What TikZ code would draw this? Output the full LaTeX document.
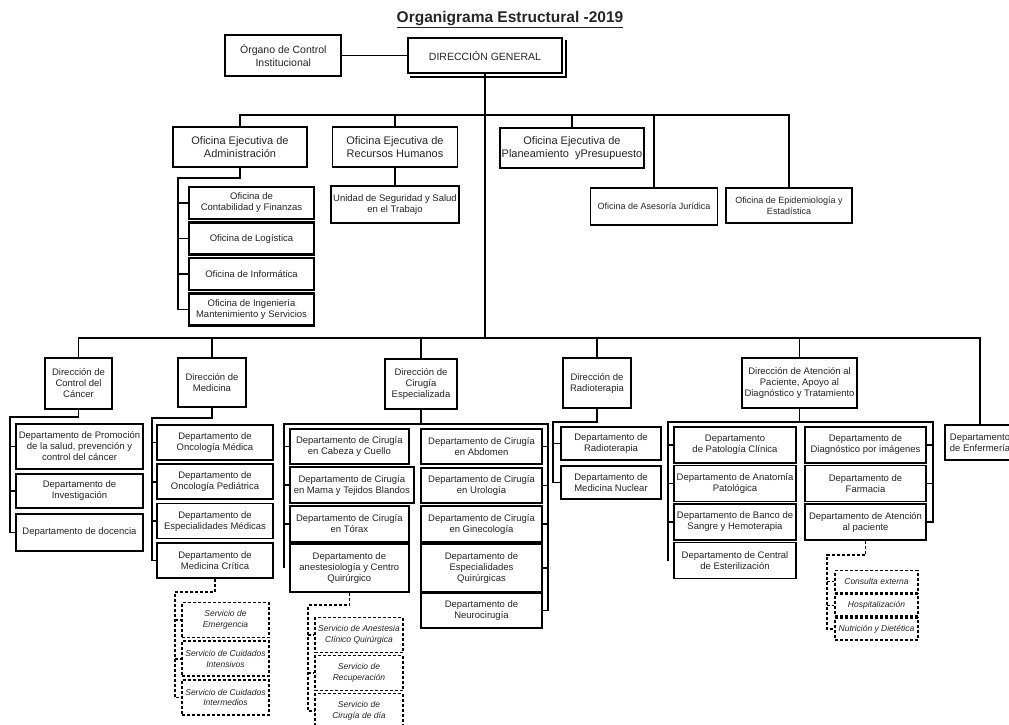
\documentclass[tikz,border=0pt]{standalone}
\usepackage{fontspec}
\setmainfont{Liberation Sans}
\usetikzlibrary{positioning}

\begin{document}
\begin{tikzpicture}[x=1pt,y=-1pt,
	linea/.style={line width=1.5pt},
	punteada/.style={line width=1.5pt,densely dashed},
	caja/.style={draw,line width=1.7pt,fill=white,text=black!85,align=center,inner sep=1pt,font=\fontsize{9.5}{11}\selectfont},
	ejecutiva/.style={caja,font=\fontsize{11}{13}\selectfont},
	oficina/.style={caja,line width=2.4pt},
	servicio/.style={caja,densely dashed,line width=1.6pt,font=\fontsize{8.5}{10.5}\selectfont\itshape}]
	\useasboundingbox (0,0) rectangle (1009,724);
	\clip (0,0) rectangle (1009,724);

	\coordinate (b1) at (485,115);
	\coordinate (b2) at (485,338);
	\coordinate (ca) at (178,178);
	\coordinate (cc) at (10,417);
	\coordinate (cm) at (152,418);
	\coordinate (cq) at (284,424);
	\coordinate (cr) at (548,424);
	\coordinate (cd) at (553,422);
	\coordinate (cp) at (668,422);
	\coordinate (cs) at (933,422);
	\coordinate (sm) at (175,592);
	\coordinate (sa) at (308,605);
	\coordinate (sp) at (827,555);

	\node[font=\fontsize{15.5}{17}\selectfont\bfseries,text=black!85] (titulo) at (510,20) {\underline{Organigrama Estructural -2019}};

	\node[caja,font=\fontsize{10.5}{12.5}\selectfont,minimum width=154,minimum height=35] (DG) at (485,55.5) {DIRECCIÓN GENERAL};
	\draw[line width=1.3pt] ([shift={(3,3)}]DG.south west) -| ([shift={(3,3)}]DG.north east);
	\node[caja,font=\fontsize{10.5}{12.5}\selectfont,minimum width=116,minimum height=41,left=65pt of DG] (OCI) {Órgano de Control\\Institucional};

	\node[ejecutiva,minimum width=134,minimum height=40] (OEA) at (240,147) {Oficina Ejecutiva de\\Administración};
	\node[ejecutiva,minimum width=125,minimum height=40] (OERH) at (395,147) {Oficina Ejecutiva de\\Recursos Humanos};
	\node[ejecutiva,minimum width=144,minimum height=40] (OEPP) at (572,148) {Oficina Ejecutiva de\\Planeamiento~ yPresupuesto};
	\node[caja,font=\fontsize{9}{11}\selectfont,minimum width=127,minimum height=37] (OAJ) at (654,206.5) {Oficina de Asesoría Jurídica};
	\node[caja,font=\fontsize{9}{11}\selectfont,minimum width=126,minimum height=35] (OEPI) at (789,205.5) {Oficina de Epidemiología y\\Estadística};
	\node[caja,minimum width=128,minimum height=37,below=17pt of OERH] (USST) {Unidad de Seguridad y Salud\\en el Trabajo};

	\foreach \t [count=\n] in {{Oficina de\\Contabilidad y Finanzas},{Oficina de Logística},{Oficina de Informática},{Oficina de Ingeniería\\Mantenimiento y Servicios}}
		\node[oficina,minimum width=125,minimum height=32] (O\n) at (251.5,167.5+35.5*\n) {\t};

	\node[caja,minimum width=67,minimum height=51] (DCC) at (78.5,383.5) {Dirección de\\Control del\\Cáncer};
	\node[caja,minimum width=68,minimum height=49] (DMED) at (212,382.5) {Dirección de\\Medicina};
	\node[caja,minimum width=72,minimum height=50] (DCE) at (421,384) {Dirección de\\Cirugía\\Especializada};
	\node[caja,minimum width=68,minimum height=50] (DRAD) at (597,383) {Dirección de\\Radioterapia};
	\node[caja,minimum width=115,minimum height=50] (DAP) at (799.5,383) {Dirección de Atención al\\Paciente, Apoyo al\\Diagnóstico y Tratamiento};
	\node[caja,minimum width=70,minimum height=35] (DENF) at (980,442.5) {Departamento\\de Enfermería};

	\foreach \y/\h/\t [count=\n] in {446.5/45/{Departamento de Promoción\\de la salud, prevención y\\control del cáncer},491/34/{Departamento de\\Investigación},532.5/37/{Departamento de docencia}}
		\node[caja,minimum width=127,minimum height=\h] (C\n) at (79.5,\y) {\t};

	\foreach \t [count=\n] in {{Departamento de\\Oncología Médica},{Departamento de\\Oncología Pediátrica},{Departamento de\\Especialidades Médicas},{Departamento de\\Medicina Crítica}}
		\node[caja,minimum width=116,minimum height=35] (M\n) at (215,403.2+39.3*\n) {\t};

	\foreach \y/\h/\w/\t [count=\n] in {446.5/35/119/{Departamento de Cirugía\\en Cabeza y Cuello},485/36/124/{Departamento de Cirugía\\en Mama y Tejidos Blandos},524/36/119/{Departamento de Cirugía\\en Tórax},568/48/119/{Departamento de\\anestesiología y Centro\\Quirúrgico}}
		\node[caja,minimum width=\w,minimum height=\h,anchor=west] (Q\n) at (289,\y) {\t};

	\foreach \y/\h/\t [count=\n] in {446.5/35/{Departamento de Cirugía\\en Abdomen},485.5/35/{Departamento de Cirugía\\en Urología},524/36/{Departamento de Cirugía\\en Ginecología},568/48/{Departamento de\\Especialidades\\Quirúrgicas},610.5/35/{Departamento de\\Neurocirugía}}
		\node[caja,minimum width=121,minimum height=\h] (R\n) at (481.5,\y) {\t};

	\foreach \t [count=\n] in {{Departamento de\\Radioterapia},{Departamento de\\Medicina Nuclear}}
		\node[caja,minimum width=100,minimum height=33] (D\n) at (611,404.5+39*\n) {\t};

	\foreach \t [count=\n] in {{Departamento\\de Patología Clínica},{Departamento de Anatomía\\Patológica},{Departamento de Banco de\\Sangre y Hemoterapia},{Departamento de Central\\de Esterilización}}
		\node[caja,minimum width=122,minimum height=36] (PL\n) at (735,406.5+38.5*\n) {\t};

	\foreach \t [count=\n] in {{Departamento de\\Diagnóstico por imágenes},{Departamento de\\Farmacia},{Departamento de Atención\\al paciente}}
		\node[caja,minimum width=121,minimum height=36] (PR\n) at (865.5,406.5+38.5*\n) {\t};

	\foreach \t [count=\n] in {{Servicio de\\Emergencia},{Servicio de Cuidados\\Intensivos},{Servicio de Cuidados\\Intermedios}}
		\node[servicio,minimum width=87,minimum height=35] (SM\n) at (225.5,581.25+38.75*\n) {\t};

	\foreach \t [count=\n] in {{Servicio de Anestesia\\Clínico Quirúrgica},{Servicio de\\Recuperación},{Servicio de\\Cirugía de día}}
		\node[servicio,minimum width=88,minimum height=35] (SA\n) at (359,597+38*\n) {\t};

	\foreach \t [count=\n] in {{Consulta externa},{Hospitalización},{Nutrición y Dietética}}
		\node[servicio,minimum width=83,minimum height=22] (SP\n) at (876.5,557.75+23.75*\n) {\t};

	\draw[linea] (OCI) -- (DG);
	\draw[linea] (DG.south) -- (DG.south |- b2);
	\draw[linea] (OEA.north) |- (OEPI.north |- b1) -- (OEPI.north);
	\path[linea]
		(OERH.north) edge (OERH.north |- b1)
		(OEPP.north) edge (OEPP.north |- b1)
		(OAJ.north) edge (OAJ.north |- b1)
		(OERH.south) edge (USST.north);
	\draw[linea] (OEA.south) |- (ca) -- (ca |- O4.west) -- (O4.west);
	\foreach \n in {1,2,3}
		\draw[linea] (ca |- O\n.west) -- (O\n.west);

	\draw[linea] (DCC.north) |- (DENF.north |- b2) -- (DENF.north);
	\path[linea]
		(DMED.north) edge (DMED.north |- b2)
		(DCE.north) edge (DCE.north |- b2)
		(DRAD.north) edge (DRAD.north |- b2)
		(DAP.north) edge (DAP.north |- b2);

	\draw[linea] (DCC.south) |- (cc) -- (cc |- C3.west) -- (C3.west);
	\foreach \n in {1,2}
		\draw[linea] (cc |- C\n.west) -- (C\n.west);

	\draw[linea] (DMED.south) |- (cm) -- (cm |- M4.west) -- (M4.west);
	\foreach \n in {1,2,3}
		\draw[linea] (cm |- M\n.west) -- (M\n.west);

	\draw[linea] (DCE.south) -- (DCE.south |- cq);
	\draw[linea] (Q4.west -| cq) -- (cq) -- (cr) -- (cr |- R5.east) -- (R5.east);
	\foreach \n in {1,2,3}
		\draw[linea] (cq |- Q\n.west) -- (Q\n.west);
	\foreach \n in {1,...,4}
		\draw[linea] (cr |- R\n.east) -- (R\n.east);

	\draw[linea] (DRAD.south) |- (cd) -- (cd |- D2.west) -- (D2.west);
	\draw[linea] (cd |- D1.west) -- (D1.west);

	\draw[linea] (DAP.south) -- (DAP.south |- cp);
	\draw[linea] (PL4.west -| cp) -- (cp) -- (cs) -- (cs |- PR3.east) -- (PR3.east);
	\foreach \n in {1,2,3}
		\draw[linea] (cp |- PL\n.west) -- (PL\n.west);
	\foreach \n in {1,2}
		\draw[linea] (cs |- PR\n.east) -- (PR\n.east);

	\draw[punteada] (M4.south) |- (sm) -- (sm |- SM3.west) -- (SM3.west);
	\foreach \n in {1,2}
		\draw[punteada] (sm |- SM\n.west) -- (SM\n.west);
	\draw[punteada] (Q4.south) |- (sa) -- (sa |- SA3.west) -- (SA3.west);
	\foreach \n in {1,2}
		\draw[punteada] (sa |- SA\n.west) -- (SA\n.west);
	\draw[punteada] (PR3.south) |- (sp) -- (sp |- SP3.west) -- (SP3.west);
	\foreach \n in {1,2}
		\draw[punteada] (sp |- SP\n.west) -- (SP\n.west);
\end{tikzpicture}
\end{document}
